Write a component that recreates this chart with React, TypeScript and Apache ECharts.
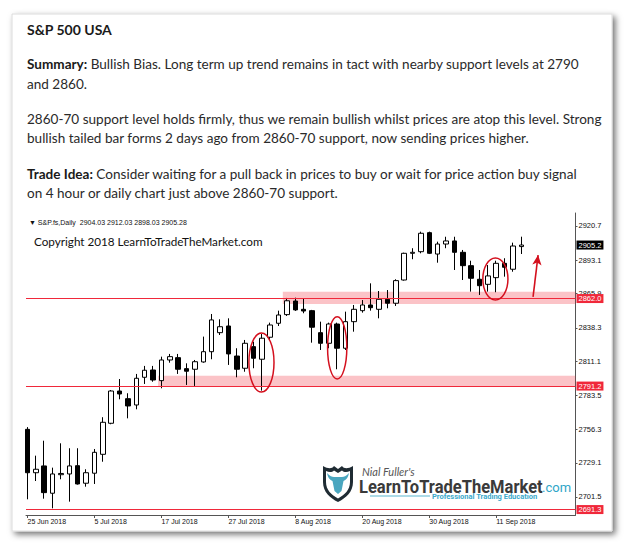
import React, { useEffect, useRef } from "react";
import * as echarts from "echarts";

// ---------- DATA ----------
// daily bars: [open, close, low, high]
const ohlc: number[][] = [
  [2756.2, 2721.1, 2699.6, 2758.0],
  [2721.1, 2723.9, 2714.4, 2734.9],
  [2726.6, 2705.0, 2700.1, 2747.0],
  [2704.5, 2720.1, 2692.3, 2725.2],
  [2719.5, 2720.5, 2715.8, 2744.9],
  [2720.1, 2726.6, 2697.7, 2740.9],
  [2726.8, 2712.0, 2711.5, 2740.9],
  [2712.6, 2721.1, 2709.8, 2723.9],
  [2720.7, 2737.6, 2712.0, 2740.3],
  [2736.0, 2761.9, 2730.0, 2766.0],
  [2761.1, 2787.2, 2760.3, 2788.0],
  [2787.2, 2784.8, 2780.5, 2796.9],
  [2781.0, 2775.1, 2765.1, 2785.4],
  [2775.9, 2797.5, 2772.4, 2801.0],
  [2798.3, 2804.0, 2792.9, 2807.5],
  [2804.2, 2796.1, 2794.7, 2807.5],
  [2795.6, 2812.3, 2789.4, 2815.0],
  [2812.3, 2815.0, 2810.1, 2817.2],
  [2814.2, 2804.8, 2801.0, 2817.2],
  [2805.3, 2803.2, 2792.1, 2809.6],
  [2804.8, 2810.9, 2791.3, 2812.3],
  [2810.7, 2819.0, 2810.1, 2831.2],
  [2819.0, 2844.7, 2812.9, 2849.5],
  [2834.4, 2839.2, 2832.5, 2845.2],
  [2839.8, 2817.2, 2808.3, 2846.0],
  [2815.5, 2804.8, 2798.3, 2821.8],
  [2805.6, 2825.8, 2802.8, 2828.5],
  [2823.1, 2813.7, 2805.6, 2827.1],
  [2812.9, 2829.9, 2787.5, 2833.3],
  [2830.7, 2840.6, 2828.5, 2842.5],
  [2842.0, 2848.7, 2839.8, 2852.2],
  [2849.0, 2860.2, 2847.9, 2862.5],
  [2860.0, 2852.8, 2852.0, 2862.7],
  [2853.3, 2851.9, 2850.1, 2862.2],
  [2852.2, 2838.8, 2826.3, 2852.8],
  [2834.4, 2825.8, 2820.4, 2843.3],
  [2825.8, 2841.4, 2821.8, 2842.5],
  [2841.4, 2821.8, 2804.8, 2842.5],
  [2821.8, 2843.3, 2820.4, 2851.4],
  [2843.3, 2853.3, 2835.2, 2856.8],
  [2852.2, 2856.8, 2850.6, 2860.8],
  [2856.8, 2854.6, 2852.2, 2874.3],
  [2853.3, 2861.4, 2846.0, 2868.1],
  [2861.4, 2858.2, 2854.1, 2868.9],
  [2858.2, 2876.5, 2856.0, 2877.6],
  [2877.0, 2898.6, 2876.5, 2899.1],
  [2898.6, 2899.4, 2893.8, 2902.7],
  [2899.9, 2914.8, 2898.6, 2916.1],
  [2915.3, 2898.6, 2898.0, 2916.1],
  [2898.0, 2906.1, 2891.0, 2908.0],
  [2906.1, 2908.6, 2902.7, 2912.0],
  [2908.6, 2899.4, 2885.1, 2912.0],
  [2899.4, 2888.6, 2877.0, 2901.3],
  [2888.6, 2878.4, 2867.6, 2892.6],
  [2877.6, 2872.4, 2864.9, 2885.1],
  [2873.5, 2880.3, 2867.6, 2889.1],
  [2878.9, 2890.5, 2867.1, 2892.6],
  [2890.5, 2887.3, 2879.7, 2894.6],
  [2885.7, 2904.5, 2883.7, 2907.2],
  [2904.03, 2905.28, 2898.03, 2912.03],
];

const MONTHS = ["Jan", "Feb", "Mar", "Apr", "May", "Jun", "Jul", "Aug", "Sep", "Oct", "Nov", "Dec"];
// one bar per weekday starting 25 Jun 2018
const dates: string[] = (() => {
  const out: string[] = [];
  const d = new Date(Date.UTC(2018, 5, 25));
  while (out.length < ohlc.length) {
    const wd = d.getUTCDay();
    if (wd !== 0 && wd !== 6) out.push(`${d.getUTCDate()} ${MONTHS[d.getUTCMonth()]} ${d.getUTCFullYear()}`);
    d.setUTCDate(d.getUTCDate() + 1);
  }
  return out;
})();

const xLabelBars = [0, 8, 16, 24, 32, 40, 48, 56];
const yTickValues = [2920.7, 2893.1, 2865.9, 2838.3, 2811.1, 2783.5, 2756.3, 2729.1, 2701.5];
const supportLevels = [2862.0, 2791.2, 2691.3];
// support zones: [startBar, top, bottom]
const zones = [
  [30.5, 2867.5, 2857.5],
  [15.6, 2799.6, 2790.7],
];
// circled bars: [bar, centre price, half width (bars), half height (points)]
const circles = [
  [27.95, 2810.3, 1.5, 23.9],
  [37.0, 2822.1, 1.15, 25.2],
  [55.9, 2877.8, 1.5, 17.0],
];
// arrow: [bar, price] -> [bar, price]
const arrowFrom = [60.4, 2863.3];
const arrowTo = [61.0, 2897.2];

const headerLines = [
  "{b|Summary:} Bullish Bias. Long term up trend remains in tact with nearby support levels at 2790",
  "and 2860.",
  "2860-70 support level holds firmly, thus we remain bullish whilst prices are atop this level. Strong",
  "bullish tailed bar forms 2 days ago from 2860-70 support, now sending prices higher.",
  "{b|Trade Idea:} Consider waiting for a pull back in prices to buy or wait for price action buy signal",
  "on 4 hour or daily chart just above 2860-70 support.",
];

// ---------- SHAPES ----------
let registered = false;
function registerShapes() {
  if (registered) return;
  registered = true;
  echarts.graphic.registerShape(
    "shieldOuter",
    echarts.graphic.extendPath(
      "M0 3 C5 6 9 6 11 3 L15 6 L19 3 C21 6 25 6 30 3 L30 19 C30 29 23 35 15 39 C7 35 0 29 0 19 Z",
      {}
    )
  );
  echarts.graphic.registerShape(
    "shieldInner",
    echarts.graphic.extendPath(
      "M3 8 C6 9.5 9 9.5 11 7.5 L15 10 L19 7.5 C21 9.5 24 9.5 27 8 L27 19 C27 27 21.5 32 15 35.5 C8.5 32 3 27 3 19 Z",
      {}
    )
  );
  echarts.graphic.registerShape(
    "bullHead",
    echarts.graphic.extendPath(
      "M4 10 C7 13 9 14 11 14 L19 14 C21 14 23 13 26 10 C25 15 23 17 20.5 18 L18.5 28 L15 31 L11.5 28 L9.5 18 C7 17 5 15 4 10 Z",
      {}
    )
  );
}

const trunc1 = (v: number) => (Math.floor(v * 10 + 1e-6) / 10).toFixed(1);

export default function App() {
  const ref = useRef<HTMLDivElement>(null);

  useEffect(() => {
    registerShapes();
    const chart = echarts.init(ref.current!, null, { renderer: "svg" });
    const last = ohlc[ohlc.length - 1];
    const textFont = "Lato";
    const hSize = 13.55;

    const baseGraphics: any[] = [
      {
        type: "rect",
        id: "card",
        z: -10,
        shape: { x: 12, y: 14, width: 600, height: 517 },
        style: {
          fill: "#ffffff",
          stroke: "#dcdcdc",
          lineWidth: 1,
          shadowBlur: 6,
          shadowOffsetX: 3,
          shadowOffsetY: 3,
          shadowColor: "rgba(0,0,0,0.55)",
        },
      },
      {
        type: "text",
        id: "title",
        x: 27,
        y: 29,
        style: {
          text: "S&P 500 USA",
          fontSize: 14,
          fontWeight: "bold",
          fontFamily: textFont,
          fill: "#1a1a1a",
          verticalAlign: "middle",
        },
      },
      ...headerLines.map((t, i) => ({
        type: "text",
        id: "hl" + i,
        x: 27,
        y: [64, 83.5, 118.5, 137.5, 173.5, 192.5][i],
        style: {
          text: t,
          fontSize: hSize,
          fontFamily: textFont,
          fill: "#2a2a2a",
          verticalAlign: "middle",
          rich: { b: { fontSize: hSize, fontFamily: textFont, fontWeight: "bold", fill: "#1a1a1a" } },
        },
      })),
      {
        type: "text",
        id: "ohlcLegend",
        x: 29,
        y: 222,
        style: {
          text: `▼ S&P.fs,Daily  ${last[0].toFixed(2)} ${last[3].toFixed(2)} ${last[2].toFixed(2)} ${last[1].toFixed(2)}`,
          fontSize: 7,
          fontFamily: "Liberation Sans",
          fill: "#111",
          verticalAlign: "middle",
        },
      },
      {
        type: "text",
        id: "copyright",
        x: 34,
        y: 241,
        style: {
          text: "Copyright 2018 LearnToTradeTheMarket.com",
          fontSize: 11.7,
          fontFamily: textFont,
          fill: "#111",
          verticalAlign: "middle",
        },
      },
      // logo
      { type: "shieldOuter", id: "sh1", x: 323, y: 463, style: { fill: "#1f2b33" } },
      { type: "shieldInner", id: "sh2", x: 323, y: 463, style: { fill: "#ffffff" } },
      { type: "bullHead", id: "sh3", x: 323, y: 463, style: { fill: "#4aa6bf" } },
      {
        type: "text",
        id: "nial",
        x: 362,
        y: 471,
        style: {
          text: "Nial Fuller's",
          fontSize: 11,
          fontStyle: "italic",
          fontFamily: "Lato",
          fill: "#555",
          verticalAlign: "middle",
        },
      },
      {
        type: "text",
        id: "ltttm",
        x: 359,
        y: 486,
        scaleX: 0.87,
        style: {
          text: "LearnToTradeTheMarket",
          fontSize: 19,
          fontWeight: "bold",
          fontFamily: "Roboto",
          fill: "#3a3a3a",
          verticalAlign: "middle",
        },
      },
      {
        type: "text",
        id: "dotcom",
        x: 542,
        y: 487,
        style: {
          text: ".com",
          fontSize: 13,
          fontFamily: "Roboto",
          fill: "#2ea6c8",
          verticalAlign: "middle",
        },
      },
      {
        type: "line",
        id: "logoLine",
        shape: { x1: 370, y1: 496, x2: 430, y2: 496 },
        style: { stroke: "#5ab8d0", lineWidth: 1.2 },
      },
      {
        type: "text",
        id: "pte",
        x: 432,
        y: 496,
        style: {
          text: "Professional Trading Education",
          fontSize: 7.5,
          fontWeight: "bold",
          fontFamily: "Roboto",
          fill: "#3aa9cb",
          verticalAlign: "middle",
        },
      },
    ];

    const red = "#f0283a";
    const tagLabel = (bg: string) => ({
      show: true,
      position: "end",
      distance: 1,
      color: "#ffffff",
      backgroundColor: bg,
      padding: [1, 2, 0, 2],
      fontSize: 7.5,
      fontFamily: "Liberation Sans",
      formatter: (p: any) => trunc1(p.value),
    });

    const option: any = {
      animation: false,
      backgroundColor: "#ffffff",
      grid: { left: 26, right: 49.5, top: 213, bottom: 28, containLabel: false },
      xAxis: {
        type: "value",
        min: -0.18,
        max: 65.47,
        axisLine: { show: true, onZero: false, lineStyle: { color: "#555", width: 1 } },
        axisTick: { show: true, customValues: xLabelBars, length: 3, lineStyle: { color: "#555" } },
        axisLabel: {
          customValues: xLabelBars,
          formatter: (v: number) => dates[Math.round(v)] ?? "",
          align: "left",
          fontSize: 7,
          fontFamily: "Liberation Sans",
          color: "#111",
          margin: 3,
        },
        splitLine: { show: false },
      },
      yAxis: {
        type: "value",
        position: "right",
        min: 2686.9,
        max: 2931.2,
        axisLine: { show: true, onZero: false, lineStyle: { color: "#555", width: 1 } },
        axisTick: { show: true, customValues: yTickValues, length: 2, lineStyle: { color: "#555" } },
        axisLabel: {
          customValues: yTickValues,
          formatter: (v: number) => v.toFixed(1),
          fontSize: 7.5,
          fontFamily: "Liberation Sans",
          color: "#111",
          margin: 3,
        },
        splitLine: { show: false },
      },
      graphic: { elements: baseGraphics },
      series: [
        {
          type: "candlestick",
          data: ohlc.map((c, i) => [i, c[0], c[1], c[2], c[3]]),
          encode: { x: 0, y: [1, 2, 3, 4] },
          barWidth: 5,
          clip: true,
          itemStyle: {
            color: "#ffffff",
            color0: "#000000",
            borderColor: "#000000",
            borderColor0: "#000000",
            borderWidth: 1,
          },
          markArea: {
            silent: true,
            itemStyle: { color: "rgba(240,40,55,0.28)" },
            data: zones.map((z) => [
              { xAxis: z[0], yAxis: z[1] },
              { xAxis: 65.47, yAxis: z[2] },
            ]),
          },
          markLine: {
            silent: true,
            symbol: ["none", "none"],
            animation: false,
            data: [
              ...supportLevels.map((v) => ({
                yAxis: v,
                lineStyle: { color: red, width: 1, type: "solid" },
                label: tagLabel(red),
              })),
              {
                yAxis: last[1],
                lineStyle: { color: "rgba(0,0,0,0)", width: 1, type: "solid" },
                label: tagLabel("#000000"),
              },
              [
                { coord: arrowFrom, symbol: "none" },
                { coord: arrowTo, symbol: "arrow", symbolSize: [7, 10] },
              ].map((p, i) =>
                i === 0
                  ? { ...p, lineStyle: { color: "#d4101e", width: 1.6, type: "solid" }, label: { show: false } }
                  : p
              ),
            ],
          },
        },
      ],
    };

    chart.setOption(option);

    const px = (b: number, p: number) => chart.convertToPixel({ gridIndex: 0 }, [b, p]) as number[];
    const ellipseEls = circles.map((c, i) => {
      const ctr = px(c[0], c[1]);
      const edge = px(c[0] + c[2], c[1] + c[3]);
      return {
        type: "ellipse",
        id: "circle" + i,
        z: 50,
        shape: { cx: ctr[0], cy: ctr[1], rx: Math.abs(edge[0] - ctr[0]), ry: Math.abs(edge[1] - ctr[1]) },
        style: { fill: "none", stroke: "#d4101e", lineWidth: 1.5 },
      };
    });
    chart.setOption({ graphic: { elements: ellipseEls } });

    return () => chart.dispose();
  }, []);

  return (
    <div
      ref={ref}
      style={{ position: "fixed", left: 0, top: 0, width: 625, height: 543, background: "#ffffff" }}
    />
  );
}
